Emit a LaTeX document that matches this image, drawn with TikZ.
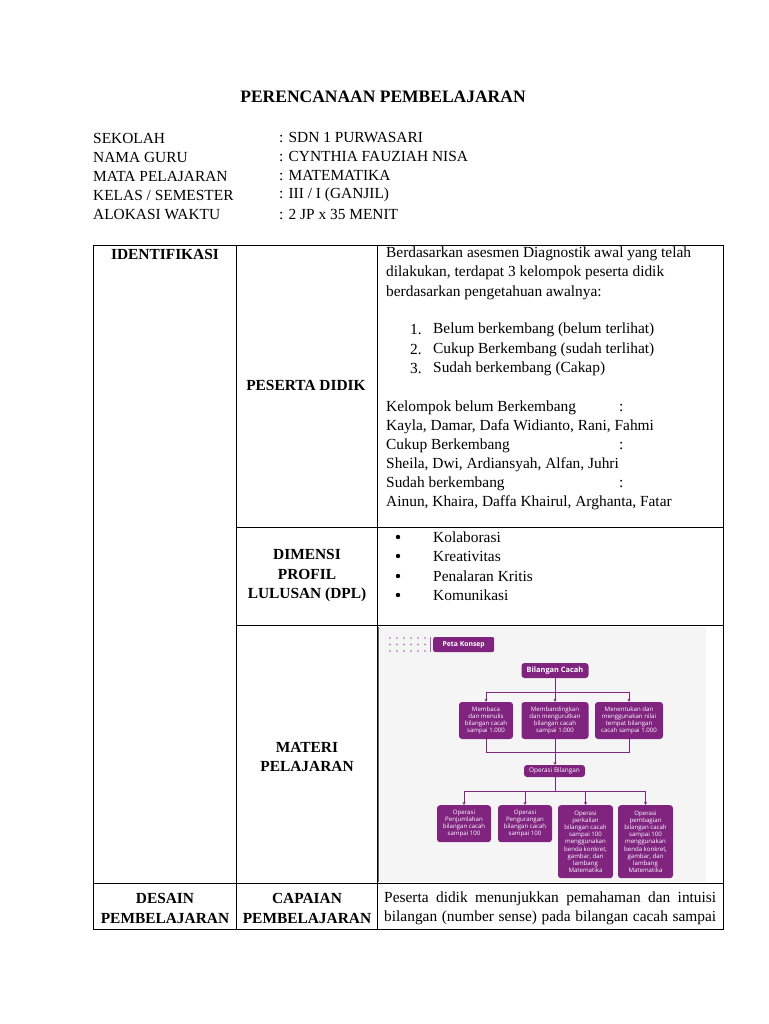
\documentclass[tikz,border=0pt]{standalone}
\usepackage{fontspec}
\usetikzlibrary{arrows.meta}
\setmainfont{Liberation Serif}
\newfontfamily\mapfont{Open Sans}
\definecolor{pur}{RGB}{128,36,128}
\definecolor{imgbg}{RGB}{246,245,246}
\begin{document}
\begin{tikzpicture}[x=1pt,y=-1pt,
  txt/.style={anchor=west,inner sep=0pt,font=\fontsize{15.4}{18}\selectfont},
  hd/.style={anchor=center,inner sep=0pt,font=\fontsize{15.4}{19.5}\selectfont\bfseries,align=center},
  pbox/.style={fill=pur,rounded corners=3pt,text=white,font=\mapfont\fontsize{6.1}{7.1}\selectfont,align=center,inner sep=1pt},
  pline/.style={draw=pur,line width=0.9pt},
  parr/.style={pline,-{Stealth[length=3pt,width=3pt]}}]
\useasboundingbox (0,0) rectangle (768,1024);
\fill[white] (0,0) rectangle (768,1024);
\node[hd,font=\fontsize{17.5}{20}\selectfont\bfseries] (title) at (383,97) {PERENCANAAN PEMBELAJARAN};
\node[txt] (l1) at (93,138) {SEKOLAH};
\node[txt] (v1) at (279,138) {: SDN 1 PURWASARI};
\node[txt] (l2) at (93,157) {NAMA GURU};
\node[txt] (v2) at (279,157) {: CYNTHIA FAUZIAH NISA};
\node[txt] (l3) at (93,176) {MATA PELAJARAN};
\node[txt] (v3) at (279,176) {: MATEMATIKA};
\node[txt] (l4) at (93,195) {KELAS / SEMESTER};
\node[txt] (v4) at (279,195) {: III / I (GANJIL)};
\node[txt] (l5) at (93,215) {ALOKASI WAKTU};
\node[txt] (v5) at (279,215) {: 2 JP x 35 MENIT};
% table
\draw[line width=0.8pt] (93,245) rectangle (723,929);
\draw[line width=0.8pt] (236,245) -- (236,929);
\draw[line width=0.8pt] (377,245) -- (377,929);
\draw[line width=0.8pt] (236,527) -- (723,527);
\draw[line width=0.8pt] (236,625) -- (723,625);
\draw[line width=0.8pt] (93,883) -- (723,883);
% row 1
\node[hd] (ident) at (165,254) {IDENTIFIKASI};
\node[hd] (pd) at (306,385) {PESERTA DIDIK};
\node[txt] (r1a) at (386,254) {Berdasarkan asesmen Diagnostik awal yang telah};
\node[txt] (r1b) at (386,273) {dilakukan, terdapat 3 kelompok peserta didik};
\node[txt] (r1c) at (386,293) {berdasarkan pengetahuan awalnya:};
\node[txt] (n1) at (410,330) {1.};
\node[txt] (t1) at (433,330) {Belum berkembang (belum terlihat)};
\node[txt] (n2) at (410,350) {2.};
\node[txt] (t2) at (433,350) {Cukup Berkembang (sudah terlihat)};
\node[txt] (n3) at (410,369) {3.};
\node[txt] (t3) at (433,369) {Sudah berkembang (Cakap)};
\node[txt] (k1) at (386,408) {Kelompok belum Berkembang};
\node[txt] (c1) at (619,408) {:};
\node[txt] (k2) at (386,427) {Kayla, Damar, Dafa Widianto, Rani, Fahmi};
\node[txt] (k3) at (386,446) {Cukup Berkembang};
\node[txt] (c3) at (619,446) {:};
\node[txt] (k4) at (386,465) {Sheila, Dwi, Ardiansyah, Alfan, Juhri};
\node[txt] (k5) at (386,484) {Sudah berkembang};
\node[txt] (c5) at (619,484) {:};
\node[txt] (k6) at (386,503) {Ainun, Khaira, Daffa Khairul, Arghanta, Fatar};
% row 2
\node[hd] (dpl) at (307,576) {DIMENSI\\PROFIL\\LULUSAN (DPL)};
\foreach \t/\y [count=\i] in {Kolaborasi/537, Kreativitas/556, Penalaran Kritis/576, Komunikasi/595}{
  \fill (398,\y) circle (2.2pt);
  \node[txt] (b\i) at (433,\y) {\t};
}
% row 3
\node[hd] (mat) at (307,757) {MATERI\\PELAJARAN};
\fill[imgbg] (379,627) rectangle (706,882);
\draw[gray!80!black,line width=0.9pt] (378,627) -- (378,882);
\foreach \r in {638,644.5,651}{\foreach \c in {390,397,404,411,418,425}{\fill[pur!70] (\c,\r) circle (0.8pt);}}
\draw[pur!70,line width=0.8pt] (430,637) -- (430,652);
\node[pbox,font=\mapfont\bfseries\fontsize{6.8}{7}\selectfont,minimum width=61pt,minimum height=15pt,anchor=west,rounded corners=2pt] (peta) at (433,644.5) {Peta Konsep};
\node[pbox,font=\mapfont\bfseries\fontsize{7.4}{8}\selectfont,minimum width=67pt,minimum height=15pt] (bc) at (555,670.5) {Bilangan Cacah};
\node[pbox,minimum width=54pt,minimum height=37pt] (m1) at (486,720.5) {Membaca\\dan menulis\\bilangan cacah\\sampai 1.000};
\node[pbox,minimum width=67pt,minimum height=37pt] (m2) at (555,720.5) {Membandingkan\\dan mengurutkan\\bilangan cacah\\sampai 1.000};
\node[pbox,minimum width=68pt,minimum height=37pt] (m3) at (629,720.5) {Menentukan dan\\menggunakan nilai\\tempat bilangan\\cacah sampai 1.000};
\node[pbox,font=\mapfont\fontsize{6.4}{7}\selectfont,minimum width=61pt,minimum height=12pt] (ob) at (554.5,771) {Operasi Bilangan};
\node[pbox,minimum width=54pt,minimum height=37pt,anchor=north] (o1) at (464,805) {Operasi\\Penjumlahan\\bilangan cacah\\sampai 100};
\node[pbox,minimum width=54pt,minimum height=37pt,anchor=north] (o2) at (525,805) {Operasi\\Pengurangan\\bilangan cacah\\sampai 100};
\node[pbox,minimum width=55pt,minimum height=73pt,anchor=north] (o3) at (585.5,805) {Operasi\\perkalian\\bilangan cacah\\sampai 100\\menggunakan\\benda konkret,\\gambar, dan\\lambang\\Matematika};
\node[pbox,minimum width=55pt,minimum height=73pt,anchor=north] (o4) at (645.5,805) {Operasi\\pembagian\\bilangan cacah\\sampai 100\\menggunakan\\benda konkret,\\gambar, dan\\lambang\\Matematika};
\coordinate (j1) at (555,692);
\draw[pline] (bc.south) -- (j1);
\draw[pline] (486,692) -- (629,692);
\draw[parr] (j1) -- (m2.north);
\draw[parr] (486,692) -- (m1.north);
\draw[parr] (629,692) -- (m3.north);
\draw[pline] (m1.south) -- (486,752) -- (629,752) -- (m3.south);
\draw[pline] (m2.south) -- (555,752);
\draw[parr] (555,752) -- (555,765);
\draw[pline] (555,777) -- (555,791);
\draw[pline] (464,791) -- (645.5,791);
\foreach \o/\x in {o1/464,o2/525,o3/585.5,o4/645.5}{\draw[parr] (\x,791) -- (\o.north);}
% row 4
\node[hd] (des) at (165,908.5) {DESAIN\\PEMBELAJARAN};
\node[hd] (cap) at (307,908.5) {CAPAIAN\\PEMBELAJARAN};
\node[txt] (cp1) at (384,899) {\makebox[332pt][s]{Peserta didik menunjukkan pemahaman dan intuisi}};
\node[txt] (cp2) at (384,918) {\makebox[332pt][s]{bilangan (number sense) pada bilangan cacah sampai}};
\end{tikzpicture}
\end{document}
